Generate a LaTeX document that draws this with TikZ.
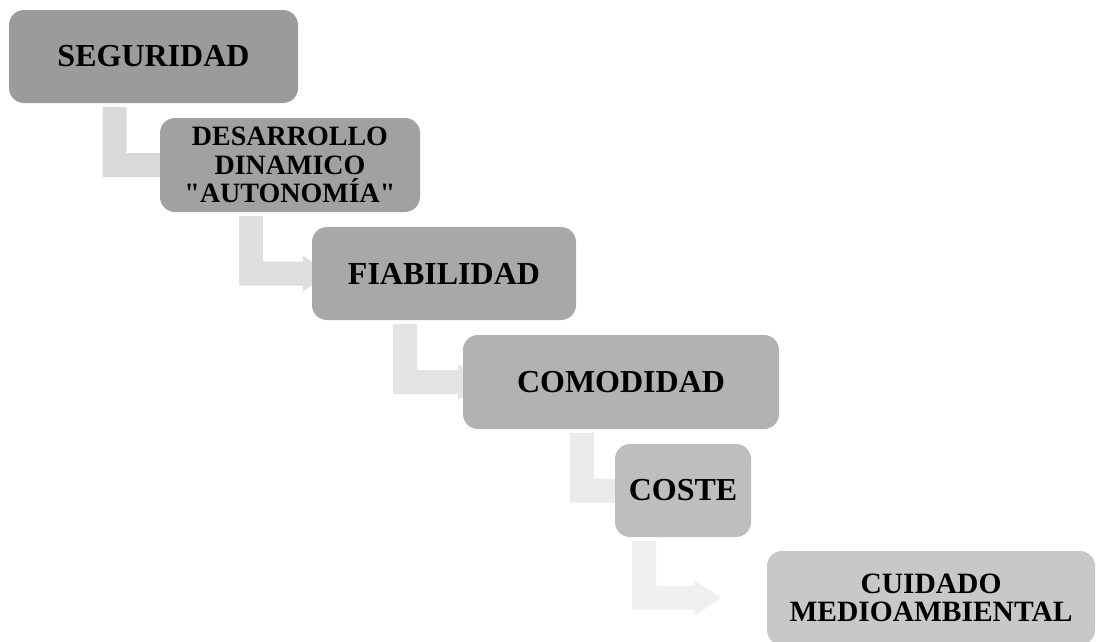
\documentclass[tikz,border=0pt]{standalone}
\usepackage{fontspec}
\setmainfont{Liberation Serif}[Ligatures=TeXOff]
\usetikzlibrary{calc, backgrounds}
\definecolor{boxa}{RGB}{155,155,155}
\definecolor{boxb}{RGB}{161,161,161}
\definecolor{boxc}{RGB}{168,168,168}
\definecolor{boxd}{RGB}{178,178,178}
\definecolor{boxe}{RGB}{190,190,190}
\definecolor{boxf}{RGB}{200,200,200}
\definecolor{arra}{RGB}{217,217,217}
\definecolor{arrb}{RGB}{223,223,223}
\definecolor{arrc}{RGB}{228,228,228}
\definecolor{arrd}{RGB}{234,234,234}
\definecolor{arre}{RGB}{240,240,240}

\begin{document}
\begin{tikzpicture}[x=1pt, y=-1pt,
		stepbox/.style={rounded corners=15pt, inner sep=0pt, align=center, font=\fontsize{32}{32}\selectfont\bfseries}]
			\useasboundingbox (0,0) rectangle (1096,641);
			\node[stepbox, fill=boxa, minimum width=289pt, minimum height=93pt] (seg) at (153.5,56.5) {SEGURIDAD};
			\node[stepbox, fill=boxb, minimum width=260pt, minimum height=94pt, font=\fontsize{28}{28.5}\selectfont\bfseries] (des) at (290,165) {DESARROLLO\\DINAMICO\\"AUTONOMÍA"};
			\node[stepbox, fill=boxc, minimum width=264pt, minimum height=93pt] (fia) at (444,273.5) {FIABILIDAD};
			\node[stepbox, fill=boxd, minimum width=316pt, minimum height=94pt] (com) at (621,382) {COMODIDAD};
			\node[stepbox, fill=boxe, minimum width=136pt, minimum height=93pt] (cos) at (683,490.5) {COSTE};
			\node[stepbox, fill=boxf, minimum width=328pt, minimum height=94pt, font=\fontsize{29.5}{28}\selectfont\bfseries] (cui) at (931,598) {CUIDADO\\MEDIOAMBIENTAL};
			% bent arrows behind the boxes
			\begin{scope}[on background layer]
				\foreach \a/\b/\c/\h in {seg/des/arra/10, des/fia/arrb/-9, fia/com/arrc/-5, com/cos/arrd/5, cos/cui/arre/-72}{
					\fill[\c] let \p1=(\a.south), \p2=(\b.west), \p3=($(\b.west)+(\h,0)$) in
						(\x1-51pt,\y1-4pt) -- (\x1-27pt,\y1-4pt) -- (\x1-27pt,\y2+12pt) -- (\x3,\y2+12pt)
						-- (\x3,\y2+18pt) -- (\x3+26pt,\y2) -- (\x3,\y2-18pt) -- (\x3,\y2-12pt)
						-- (\x1-51pt,\y2-12pt) -- cycle;
				}
			\end{scope}
		\end{tikzpicture}
\end{document}
